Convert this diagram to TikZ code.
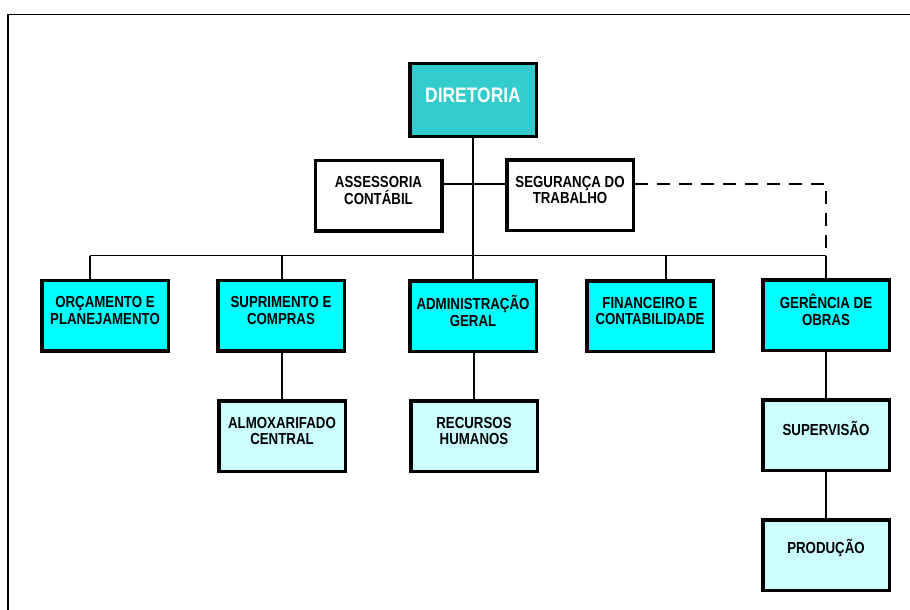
\documentclass[tikz,border=0pt]{standalone}
\usepackage{fontspec}
\usetikzlibrary{backgrounds}
\setmainfont{Liberation Sans}
\newfontfamily\narrowsans{Liberation Sans}[FakeStretch=0.83]
\definecolor{topteal}{HTML}{33CCCC}
\definecolor{deptcyan}{HTML}{00FFFF}
\definecolor{subcyan}{HTML}{CCFFFF}
\tikzset{
  orgbox/.style={draw=black, line width=3.5pt, rectangle,
    minimum width=126.5pt, minimum height=70.5pt, inner sep=0pt},
  toplevel/.style={orgbox, fill=topteal, minimum height=72.5pt},
  staff/.style={orgbox, fill=white},
  dept/.style={orgbox, fill=deptcyan},
  sub/.style={orgbox, fill=subcyan},
  boxtext/.style={align=center, inner sep=0pt,
    font=\narrowsans\bfseries\fontsize{16}{16.5}\selectfont, text=black},
  twoline/.style={boxtext, yshift=5pt},
  oneline/.style={boxtext, yshift=6.5pt},
  link/.style={draw=black, line width=1.3pt},
  dottedlink/.style={link, dash pattern=on 13pt off 9pt}
}
\begin{document}
\begin{tikzpicture}[x=1pt, y=-1pt]
\useasboundingbox (0,0) rectangle (910,610);

% boxes
\node[toplevel] (dir) at (473,100) {};
\node[boxtext, text=white, font=\narrowsans\bfseries\fontsize{21}{22}\selectfont, yshift=4.5pt] (dir-t) at (dir.center) {DIRETORIA};

\node[staff] (ass) at (378.5,195.5) {};
\node[twoline] (ass-t) at (ass.center) {ASSESSORIA\\CONTÁBIL};
\node[staff] (seg) at (570,195) {};
\node[twoline] (seg-t) at (seg.center) {SEGURANÇA DO\\TRABALHO};

\node[dept] (orc) at (105,315.5) {};
\node[twoline] (orc-t) at (orc.center) {ORÇAMENTO E\\PLANEJAMENTO};
\node[dept] (sup) at (281,315.5) {};
\node[twoline] (sup-t) at (sup.center) {SUPRIMENTO E\\COMPRAS};
\node[dept] (adm) at (473,316) {};
\node[twoline] (adm-t) at (adm.center) {ADMINISTRAÇÃO\\GERAL};
\node[dept] (fin) at (650,316) {};
\node[twoline] (fin-t) at (fin.center) {FINANCEIRO E\\CONTABILIDADE};
\node[dept] (ger) at (826,315) {};
\node[twoline] (ger-t) at (ger.center) {GERÊNCIA DE\\OBRAS};

\node[sub] (alm) at (282,436) {};
\node[twoline] (alm-t) at (alm.center) {ALMOXARIFADO\\CENTRAL};
\node[sub] (rec) at (474,436) {};
\node[twoline] (rec-t) at (rec.center) {RECURSOS\\HUMANOS};
\node[sub] (spv) at (826,435) {};
\node[oneline] (spv-t) at (spv.center) {SUPERVISÃO};
\node[sub] (prd) at (826,555) {};
\node[oneline] (prd-t) at (prd.center) {PRODUÇÃO};

% junction points on the department bus
\coordinate (busL) at (90,255.5);
\coordinate (busR) at (826,255.5);
\coordinate (staffrow) at (473,184);

\begin{scope}[on background layer]
% page background and outer frame, running past the right and bottom edges
\fill[white] (0,0) rectangle (910,610);
\draw[black, line width=1.8pt] (920,14.5) -- (8,14.5) -- (8,620);

% connectors, kept behind the boxes
\draw[link] (dir.south) -- (dir.south |- busL);
\draw[link] (ass.east |- staffrow) -- (seg.west |- staffrow);
\draw[link] (busL) -- (busR);
\draw[link] (busL) -- (busL |- orc.north);
\draw[link] ([xshift=1pt]sup.north |- busL) -- ([xshift=1pt]sup.north);
\draw[link] (adm.north |- busL) -- (adm.north);
\draw[link] ([xshift=16pt]fin.north |- busL) -- ([xshift=16pt]fin.north);
\draw[link] (busR) -- (ger.north);
\draw[link] (sup.south -| alm.north) -- (alm.north);
\draw[link] (adm.south -| rec.north) -- (rec.north);
\draw[link] (ger.south) -- (spv.north);
\draw[link] (spv.south) -- (prd.north);
\draw[dottedlink] (seg.east |- staffrow) -| (busR);
\end{scope}
\end{tikzpicture}
\end{document}
